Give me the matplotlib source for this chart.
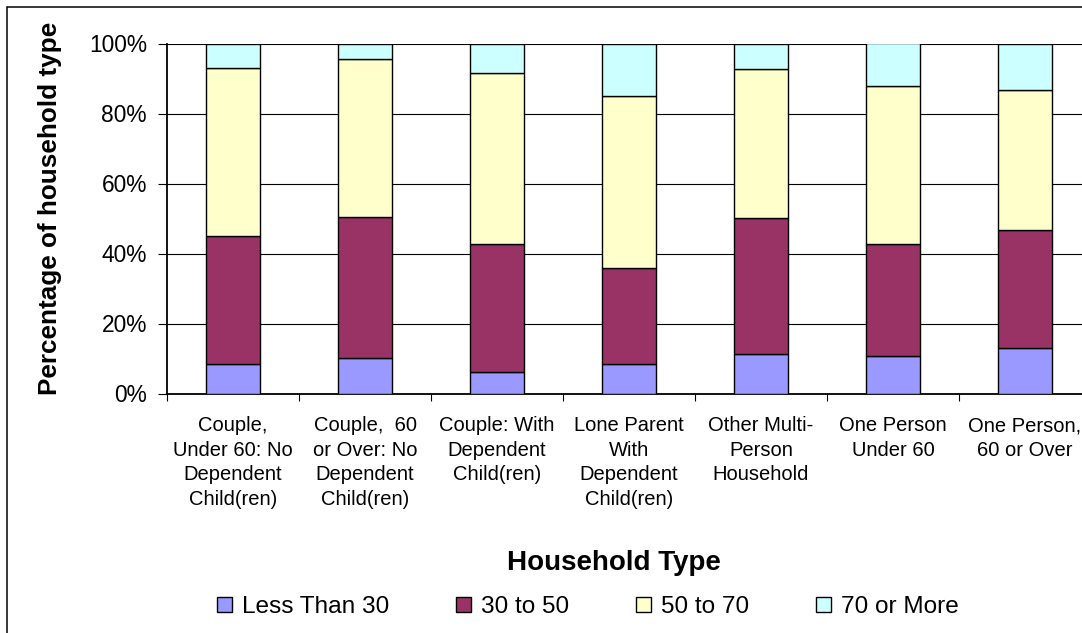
import matplotlib
matplotlib.use("Agg")
import matplotlib.pyplot as plt
from matplotlib.patches import Rectangle
from matplotlib.ticker import FuncFormatter, FixedLocator, NullFormatter

plt.rcParams['font.family'] = ['Liberation Sans', 'DejaVu Sans']

categories = [
    "Couple,\nUnder 60: No\nDependent\nChild(ren)",
    "Couple,  60\nor Over: No\nDependent\nChild(ren)",
    "Couple: With\nDependent\nChild(ren)",
    "Lone Parent\nWith\nDependent\nChild(ren)",
    "Other Multi-\nPerson\nHousehold",
    "One Person\nUnder 60",
    "One Person,\n60 or Over",
]
series_names = ["Less Than 30", "30 to 50", "50 to 70", "70 or More"]
less_than_30 = [8.5, 10.1, 6.1, 8.5, 11.4, 10.7, 13.0]
from_30_to_50 = [36.6, 40.2, 36.7, 27.5, 38.8, 32.1, 33.8]
from_50_to_70 = [48.0, 45.2, 48.7, 49.1, 42.4, 45.1, 39.9]
over_70 = [6.9, 4.5, 8.5, 14.9, 7.4, 12.1, 13.3]
colors = ["#9999FF", "#993366", "#FFFFCC", "#CCFFFF"]

W, H = 1082, 633
fig = plt.figure(figsize=(W / 100, H / 100), dpi=100)

# plot area in pixel terms: left 167, right 1091 (runs past the right edge), top 43.5, bottom 393.5
left, right, top, bottom = 167, 1091, 43.5, 393.5
ax = fig.add_axes([left / W, 1 - bottom / H, (right - left) / W, (bottom - top) / H])

x = list(range(len(categories)))
base = [0.0] * len(categories)
handles = []
for name, vals, col in zip(series_names,
                           [less_than_30, from_30_to_50, from_50_to_70, over_70],
                           colors):
    b = ax.bar(x, vals, width=0.41, bottom=base, color=col,
               edgecolor="black", linewidth=1.0, label=name, zorder=3)
    handles.append(b)
    base = [p + v for p, v in zip(base, vals)]

ax.set_xlim(-0.5, len(categories) - 0.5)
ax.set_ylim(0, 100)
ax.set_yticks([0, 20, 40, 60, 80, 100])
ax.yaxis.set_major_formatter(FuncFormatter(lambda v, p: f"{int(v)}%"))
ax.yaxis.grid(True, color="black", linewidth=0.8)
ax.set_axisbelow(True)

# boundaries between categories carry tick marks, centres carry the labels
ax.xaxis.set_major_locator(FixedLocator([i - 0.5 for i in range(len(categories) + 1)]))
ax.xaxis.set_major_formatter(NullFormatter())
ax.xaxis.set_minor_locator(FixedLocator(x))
ax.set_xticklabels(categories, minor=True, fontsize=14.5, linespacing=1.36)
ax.tick_params(axis="x", which="major", length=5, width=0.8, color="black", direction="out")
ax.tick_params(axis="x", which="minor", length=0, pad=16.5)
ax.tick_params(axis="y", length=6.5, width=0.8, color="black", pad=8, labelsize=16.4)

for s in ["top", "right"]:
    ax.spines[s].set_visible(False)
for s in ["left", "bottom"]:
    ax.spines[s].set_linewidth(1.3)
    ax.spines[s].set_color("black")

fig.text(50 / W, 1 - 208 / H, "Percentage of household type", rotation=90,
         ha="center", va="center", fontsize=18.8, fontweight="bold")
fig.text(613.5 / W, 1 - 563 / H, "Household Type",
         ha="center", va="center", fontsize=20, fontweight="bold")

ax.legend(handles=handles, labels=series_names, ncol=4, frameon=False,
          fontsize=17.6, handlelength=0.61, handleheight=0.61,
          handletextpad=0.4, columnspacing=2.75, borderpad=0, borderaxespad=0,
          loc="center", bbox_to_anchor=(588 / W, 1 - 607 / H),
          bbox_transform=fig.transFigure)

# chart-area frame
fig.patches.append(Rectangle((7 / W, -0.1), 2.0, (1 - 7 / H) + 0.1,
                             transform=fig.transFigure, fill=False,
                             edgecolor="black", linewidth=1.1, zorder=10))

fig.savefig("out.png", dpi=100)
